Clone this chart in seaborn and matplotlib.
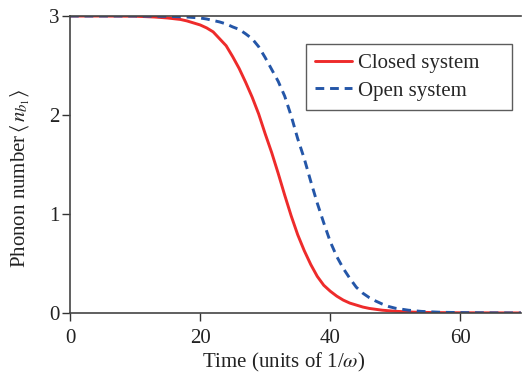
import numpy as np
import pandas as pd
import matplotlib
matplotlib.use("Agg")
import matplotlib.pyplot as plt
import seaborn as sns

# Data
closed_t = [0, 5, 10, 13, 15, 17, 18, 19, 20, 21, 22, 23, 24, 25, 26, 27, 28, 29, 30, 31, 32, 33, 34,
            35, 36, 37, 38, 39, 40, 41, 42, 43, 44, 45, 46, 48, 50, 53, 56, 60, 65, 70]
closed_n = [3.0, 3.0, 2.998, 2.99, 2.98, 2.965, 2.95, 2.93, 2.91, 2.88, 2.84, 2.77, 2.70, 2.59, 2.47,
            2.33, 2.18, 2.01, 1.81, 1.62, 1.41, 1.19, 0.98, 0.79, 0.63, 0.49, 0.37, 0.28, 0.22, 0.17,
            0.13, 0.10, 0.08, 0.06, 0.046, 0.028, 0.017, 0.008, 0.004, 0.002, 0.001, 0.0]
open_t = [0, 10, 15, 18, 20, 21, 22, 23, 24, 25, 26, 27, 28, 29, 30, 31, 32, 33, 34, 35, 36, 37, 38,
          39, 40, 41, 42, 43, 44, 45, 46, 47, 48, 49, 50, 52, 54, 57, 60, 65, 70]
open_n = [3.0, 3.0, 2.997, 2.99, 2.98, 2.97, 2.955, 2.94, 2.92, 2.89, 2.865, 2.82, 2.77, 2.69, 2.58,
          2.46, 2.34, 2.19, 1.99, 1.76, 1.56, 1.33, 1.11, 0.91, 0.72, 0.57, 0.45, 0.35, 0.26, 0.20,
          0.155, 0.12, 0.09, 0.065, 0.048, 0.028, 0.016, 0.007, 0.004, 0.001, 0.0]
x_ticks = [0, 20, 40, 60]
y_ticks = [0, 1, 2, 3]

sns.set_theme(style="ticks")
plt.rcParams['font.family'] = ['Liberation Serif', 'DejaVu Serif']
plt.rcParams['mathtext.fontset'] = 'stix'

fig = plt.figure(figsize=(5.22, 3.76), dpi=100)
ax = fig.add_axes([0.134, 0.1676, 0.864, 0.7898])

df_c = pd.DataFrame({"t": closed_t, "n": closed_n})
df_o = pd.DataFrame({"t": open_t, "n": open_n})
sns.lineplot(data=df_c, x="t", y="n", ax=ax, color="#EE2B2B", lw=2.1, label="Closed system")
sns.lineplot(data=df_o, x="t", y="n", ax=ax, color="#2456A8", lw=2.1, label="Open system")
ax.lines[1].set_dashes([3, 2])

ax.set_xlim(0, 69.3)
ax.set_ylim(0, 3)
ax.set_xticks(x_ticks)
ax.set_yticks(y_ticks)
ax.tick_params(direction='out', length=5.5, width=1, colors='#333333', labelsize=15,
               labelcolor='#222222')
ax.tick_params(axis='x', pad=6)
ax.tick_params(axis='y', pad=2)
for s in ['left', 'bottom', 'top']:
    ax.spines[s].set_color('#444444')
    ax.spines[s].set_linewidth(1.2)
ax.spines['right'].set_visible(False)

ax.set_xlabel(r"Time (units of 1/$\omega$)", fontsize=15, color='#222222')
ax.set_ylabel(r"Phonon number$\,\langle\, n_{b_1} \rangle$", fontsize=15, color='#222222')
ax.xaxis.set_label_coords(0.473, -0.128)
ax.yaxis.set_label_coords(-0.085, 0.455)

leg = ax.legend(loc='upper left', bbox_to_anchor=(0.523, 0.0, 0.457, 0.905), mode='expand',
                fontsize=15, frameon=True,
                fancybox=False, edgecolor='#333333', handlelength=1.75, borderpad=0.45,
                labelspacing=0.38, handletextpad=0.3, borderaxespad=0)
leg.get_frame().set_linewidth(1.0)
leg.legend_handles[1].set_dashes([3, 2])

fig.savefig("out.png", dpi=100)
